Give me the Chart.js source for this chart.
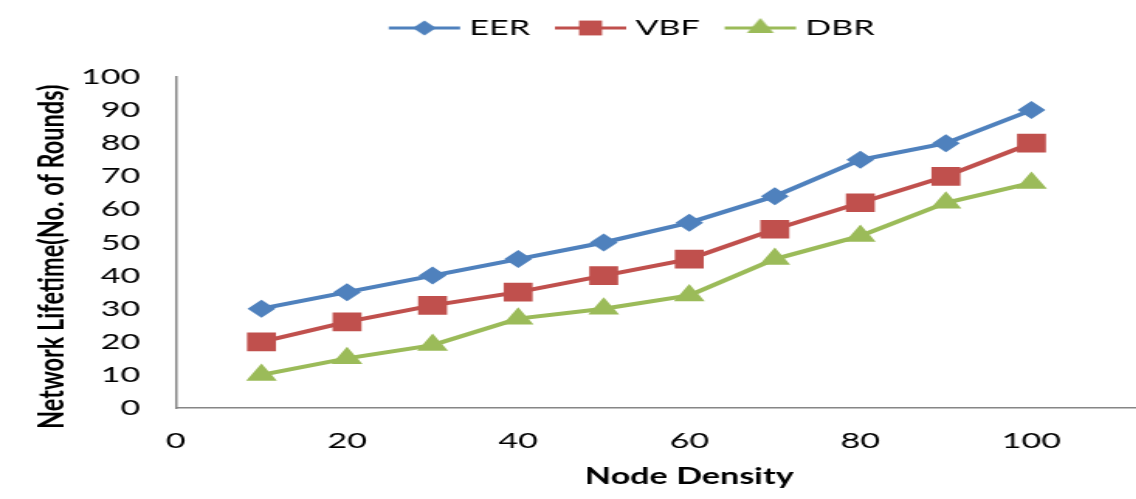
<!DOCTYPE html>
<html>
<head>
<meta charset="utf-8">
<script src="https://cdn.jsdelivr.net/npm/chart.js@4"></script>
<style>
  html, body { margin: 0; padding: 0; background: #fff; overflow: hidden; }
  /* the original picture is stretched sideways, so draw narrow and widen */
  #wrap { width: 815px; height: 499px; transform: scaleX(1.55); transform-origin: 0 0; }
</style>
</head>
<body>
<div id="wrap"><canvas id="chart" width="815" height="499"></canvas></div>
<script>
const nodeDensity = [10, 20, 30, 40, 50, 60, 70, 80, 90, 100];
const eer = [30, 35, 40, 45, 50, 56, 64, 75, 80, 90];
const vbf = [20, 26, 31, 35, 40, 45, 54, 62, 70, 80];
const dbr = [10, 15, 19, 27, 30, 34, 45, 52, 62, 68];
const seriesNames = ['EER', 'VBF', 'DBR'];
const xMax = 120;
const yMax = 100;

const colors = ['#4F81BD', '#C0504D', '#9BBB59'];
const styles = ['rectRot', 'rect', 'triangle'];

function toPoints(values) {
    return nodeDensity.map((x, i) => ({ x: x, y: values[i] }));
}

// legend symbol: short line with the marker in the middle
function legendGlyph(color, style, radius) {
    let c = document.createElement('canvas');
    c.width = 48;
    c.height = 24;
    let ctx = c.getContext('2d');
    ctx.strokeStyle = color;
    ctx.lineWidth = 3;
    ctx.beginPath();
    ctx.moveTo(1, 12);
    ctx.lineTo(47, 12);
    ctx.stroke();
    ctx.fillStyle = color;
    Chart.helpers.drawPoint(ctx, { pointStyle: style, radius: radius, rotation: 0, borderWidth: 0 }, 24, 12);
    return c;
}
const glyphs = [
    legendGlyph(colors[0], styles[0], 7.5),
    legendGlyph(colors[1], styles[1], 10.5),
    legendGlyph(colors[2], styles[2], 10)
];

const legendShift = {
    id: 'legendShift',
    beforeInit(chart) {
        const fit = chart.legend.fit;
        chart.legend.fit = function () {
            fit.call(this);
            this.height = 81;
        };
    },
    afterLayout(chart) {
        chart.legend.left += 2.5;
        chart.legend.right += 2.5;
    }
};

const seriesValues = [eer, vbf, dbr];
const markerSizes = [9, 13.2, 11.5];

new Chart(document.getElementById('chart'), {
    type: 'line',
    data: {
        datasets: seriesNames.map((name, i) => ({
            label: name,
            data: toPoints(seriesValues[i]),
            borderColor: colors[i],
            backgroundColor: colors[i],
            borderWidth: 4,
            pointStyle: styles[i],
            pointRadius: markerSizes[i],
            pointBorderWidth: 0,
            pointBackgroundColor: colors[i],
            tension: 0
        }))
    },
    options: {
        responsive: false,
        animation: false,
        layout: { padding: { top: -4, left: 0, right: 0, bottom: 0 } },
        plugins: {
            tooltip: { enabled: false },
            legend: {
                position: 'top',
                labels: {
                    usePointStyle: true,
                    pointStyleWidth: 36,
                    padding: 21,
                    color: '#000',
                    font: { family: 'Lato', size: 22 },
                    generateLabels(chart) {
                        return chart.data.datasets.map((ds, i) => ({
                            text: ds.label,
                            pointStyle: glyphs[i],
                            fillStyle: ds.borderColor,
                            strokeStyle: ds.borderColor,
                            lineWidth: 0,
                            hidden: false,
                            datasetIndex: i
                        }));
                    }
                }
            }
        },
        scales: {
            x: {
                type: 'linear',
                min: 0,
                max: xMax,
                afterFit(scale) { scale.height = 91; },
                grid: { display: false, drawTicks: false },
                border: { display: true, color: '#868686', width: 1.5 },
                ticks: {
                    stepSize: 20,
                    padding: 20,
                    color: '#000',
                    font: { family: 'Lato', size: 22 }
                },
                title: {
                    display: true,
                    text: 'Node Density',
                    color: '#000',
                    font: { family: 'Lato', size: 22, weight: 'bold' },
                    padding: { top: 0, bottom: 9 }
                }
            },
            y: {
                min: 0,
                max: yMax,
                afterFit(scale) { scale.width = 113.5; },
                grid: { display: false, drawTicks: false },
                border: { display: true, color: '#868686', width: 1.5 },
                ticks: {
                    stepSize: 10,
                    padding: 23,
                    color: '#000',
                    font: { family: 'Lato', size: 22 }
                },
                title: {
                    display: true,
                    text: 'Network Lifetime(No. of Rounds)     ',
                    color: '#000',
                    font: { family: 'Lato', size: 23.5, weight: 'bold' },
                    padding: { top: 19.5, bottom: 0 }
                }
            }
        }
    },
    plugins: [legendShift]
});
</script>
</body>
</html>
